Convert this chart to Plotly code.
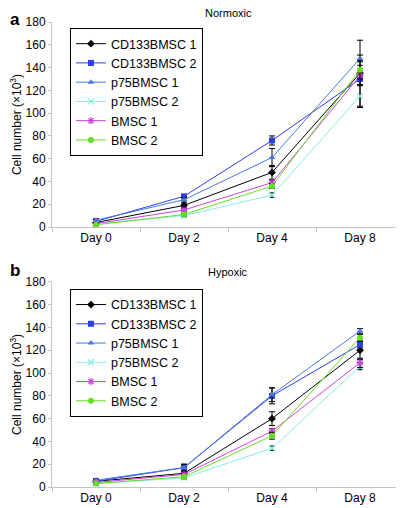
import plotly.graph_objects as go

days = ["Day 0", "Day 2", "Day 4", "Day 8"]
series_names = ["CD133BMSC 1", "CD133BMSC 2", "p75BMSC 1", "p75BMSC 2", "BMSC 1", "BMSC 2"]
colors = ["#000000", "#2b3fe8", "#4a78e0", "#86eee6", "#cc44dd", "#66dd22"]
symbols = ["diamond", "square", "triangle-up", "x-thin-open", "asterisk-open", "circle"]

# Normoxic (panel a)
norm_cd133_1 = [4, 19, 48, 135]
norm_cd133_2 = [5, 27, 76, 130]
norm_p75_1 = [6, 24, 61, 148]
norm_p75_2 = [3, 10, 28, 115]
norm_bmsc_1 = [3, 15, 39, 133]
norm_bmsc_2 = [2, 11, 36, 138]
norm_err_cd133_1 = [1, 2, 6, 29]
norm_err_cd133_2 = [1, 1, 4, 5]
norm_err_p75_1 = [1, 2, 8, 3]
norm_err_p75_2 = [1, 1, 2, 10]
norm_err_bmsc_1 = [1, 1, 2, 9]
norm_err_bmsc_2 = [1, 1, 2, 8]

# Hypoxic (panel b)
hyp_cd133_1 = [5, 12, 60, 120]
hyp_cd133_2 = [5, 17, 80, 125]
hyp_p75_1 = [6, 17, 81, 137]
hyp_p75_2 = [3, 8, 34, 106]
hyp_bmsc_1 = [4, 11, 49, 109]
hyp_bmsc_2 = [3, 9, 45, 131]
hyp_err_cd133_1 = [1, 2, 6, 8]
hyp_err_cd133_2 = [1, 3, 7, 3]
hyp_err_p75_1 = [1, 3, 6, 2]
hyp_err_p75_2 = [1, 1, 2, 3]
hyp_err_bmsc_1 = [1, 1, 2, 4]
hyp_err_bmsc_2 = [1, 1, 3, 3]

norm_vals = [norm_cd133_1, norm_cd133_2, norm_p75_1, norm_p75_2, norm_bmsc_1, norm_bmsc_2]
norm_errs = [norm_err_cd133_1, norm_err_cd133_2, norm_err_p75_1, norm_err_p75_2, norm_err_bmsc_1, norm_err_bmsc_2]
hyp_vals = [hyp_cd133_1, hyp_cd133_2, hyp_p75_1, hyp_p75_2, hyp_bmsc_1, hyp_bmsc_2]
hyp_errs = [hyp_err_cd133_1, hyp_err_cd133_2, hyp_err_p75_1, hyp_err_p75_2, hyp_err_bmsc_1, hyp_err_bmsc_2]

y_ticks = [0, 20, 40, 60, 80, 100, 120, 140, 160, 180]

FONT = "Liberation Sans, Arial, Helvetica, sans-serif"
AXIS_COL = "#c4c4c4"

fig = go.Figure()

def add_panel(vals, errs, xaxis, yaxis, legend):
    for name, v, e, c, s in zip(series_names, vals, errs, colors, symbols):
        open_sym = s.endswith("open")
        fig.add_trace(go.Scatter(
            x=days, y=v, name=name, mode="lines+markers",
            xaxis=xaxis, yaxis=yaxis, legend=legend,
            line=dict(color=c, width=1),
            marker=dict(symbol=s, size=6, color=c,
                        line=dict(color=c, width=1.2 if open_sym else 0)),
            error_y=dict(type="data", array=e, visible=True, color="#000000",
                         thickness=1, width=3),
        ))

add_panel(norm_vals, norm_errs, "x", "y", "legend")
add_panel(hyp_vals, hyp_errs, "x2", "y2", "legend2")

axis_common_x = dict(type="category", categoryorder="array", categoryarray=days,
                     range=[-0.5, 3.5], showline=True, linecolor=AXIS_COL, linewidth=1,
                     ticks="outside", tickson="boundaries", ticklen=4, tickcolor=AXIS_COL,
                     showgrid=False, zeroline=False,
                     tickfont=dict(family=FONT, size=12, color="#000"))
axis_common_y = dict(range=[0, 180], tickvals=y_ticks, showline=True, linecolor=AXIS_COL,
                     linewidth=1, ticks="outside", ticklen=3, tickcolor=AXIS_COL,
                     showgrid=False, zeroline=False,
                     tickfont=dict(family=FONT, size=12, color="#000"),
                     title=dict(text="Cell number (×10<sup>3</sup>)",
                                font=dict(family=FONT, size=12, color="#000"), standoff=3))

top_dom = [0.559, 1.0]
bot_dom = [0.0, 0.441]

legend_common = dict(xanchor="left", yanchor="top", bordercolor="#000", borderwidth=1,
                     bgcolor="white", font=dict(family=FONT, size=12.5, color="#000"),
                     tracegroupgap=0, itemwidth=30)

fig.update_layout(
    width=396, height=500,
    margin=dict(l=44, r=0, t=14, b=21),
    paper_bgcolor="white", plot_bgcolor="white",
    font=dict(family=FONT, size=12, color="#000"),
    xaxis=dict(domain=[0, 1], anchor="y", **axis_common_x),
    yaxis=dict(domain=top_dom, anchor="x", **axis_common_y),
    xaxis2=dict(domain=[0, 1], anchor="y2", **axis_common_x),
    yaxis2=dict(domain=bot_dom, anchor="x2", **axis_common_y),
    legend=dict(x=0.051, y=0.987, **legend_common),
    legend2=dict(x=0.051, y=0.426, **legend_common),
    showlegend=True,
)

fig.add_annotation(text="Normoxic", xref="paper", yref="paper", x=0.5, y=1.0,
                   xanchor="center", yanchor="bottom", yshift=1, showarrow=False,
                   font=dict(family=FONT, size=11))
fig.add_annotation(text="Hypoxic", xref="paper", yref="paper", x=0.5, y=0.441,
                   xanchor="center", yanchor="bottom", yshift=2, showarrow=False,
                   font=dict(family=FONT, size=11))
fig.add_annotation(text="<b>a</b>", xref="paper", yref="paper", x=-0.125, y=1.0,
                   xanchor="left", yanchor="top", yshift=14, showarrow=False,
                   font=dict(family=FONT, size=17))
fig.add_annotation(text="<b>b</b>", xref="paper", yref="paper", x=-0.125, y=0.441,
                   xanchor="left", yanchor="bottom", yshift=0, showarrow=False,
                   font=dict(family=FONT, size=17))

fig.write_html("out.html")
